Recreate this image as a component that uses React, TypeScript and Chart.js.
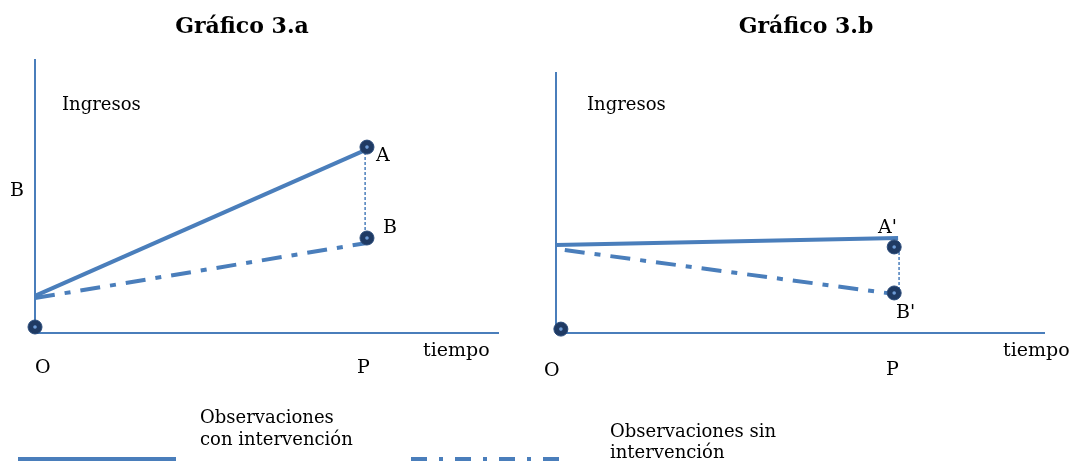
import React, { useEffect, useRef } from 'react';
import { Chart, registerables } from 'chart.js';

Chart.register(...registerables);

// ---------- text content ----------
const titles = ['Gráfico 3.a', 'Gráfico 3.b'];
const yAxisLabel = 'Ingresos';
const xAxisLabel = 'tiempo';
const timeTicks = ['O', 'P'];
const aSideLabel = 'B';
const aPointNames = ['A', 'B'];
const bPointNames = ["A'", "B'"];
const legendLabels = [
  ['Observaciones', 'con intervención'],
  ['Observaciones sin', 'intervención'],
];

// ---------- panel a values (x: tiempo 0..100, y: ingresos 0..100) ----------
const aWithX = [0, 71.3];
const aWithY = [13.6, 67.0];
const aWithoutX = [0, 71.7];
const aWithoutY = [12.8, 33.0];
const aGapX = [71.3, 71.3];
const aGapY = [68.1, 34.8];
const aPointX = [0, 71.7, 71.7];
const aPointY = [2.2, 68.1, 34.8];

// ---------- panel b values ----------
const bWithX = [0, 70.1];
const bWithY = [33.8, 36.5];
const bWithoutX = [1.8, 69.3];
const bWithoutY = [31.9, 15.0];
const bGapX = [70.3, 70.3];
const bGapY = [33.1, 15.4];
const bPointX = [1.0, 69.3, 69.3];
const bPointY = [1.5, 33.1, 15.4];

// ---------- styles ----------
const W = 1072;
const H = 462;
const BLUE = '#4a7ebb';
const NAVY = '#1f3a63';
const NAVY_EDGE = '#2c4d7c';
const CENTER = '#6d9bd6';
const DASH_DOT = [20, 10, 6, 10];
const SERIF = '"DejaVu Serif", serif';
const LABEL_FONT = `19px ${SERIF}`;
const SMALL_FONT = `18px ${SERIF}`;
const TITLE_FONT = `bold 22px ${SERIF}`;

const zip = (xs: number[], ys: number[]) => xs.map((x, i) => ({ x, y: ys[i] }));

function panelDatasets(
  wx: number[], wy: number[], nx: number[], ny: number[],
  gx: number[], gy: number[], px: number[], py: number[]
): any[] {
  return [
    { data: zip(px, py), pointRadius: 1.8, pointBackgroundColor: CENTER, pointBorderWidth: 0, showLine: false, clip: false, order: 0 },
    { data: zip(px, py), pointRadius: 7, pointBackgroundColor: NAVY, pointBorderColor: NAVY_EDGE, pointBorderWidth: 1, showLine: false, clip: false, order: 1 },
    { data: zip(wx, wy), showLine: true, borderColor: BLUE, borderWidth: 4, borderCapStyle: 'butt', pointRadius: 0, clip: false, order: 2 },
    { data: zip(nx, ny), showLine: true, borderColor: BLUE, borderWidth: 4, borderDash: DASH_DOT, borderCapStyle: 'butt', pointRadius: 0, clip: false, order: 2 },
    { data: zip(gx, gy), showLine: true, borderColor: BLUE, borderWidth: 1.5, borderDash: [3, 2], pointRadius: 0, clip: false, order: 3 },
  ];
}

type TextItem = { text: string; x: number; y: number; font: string; align?: CanvasTextAlign };

function textPlugin(id: string, items: TextItem[], drawLegend: boolean) {
  return {
    id,
    afterDraw(chart: any) {
      const ctx = chart.ctx as CanvasRenderingContext2D;
      ctx.save();
      if (drawLegend) {
        ctx.strokeStyle = BLUE;
        ctx.lineWidth = 4;
        ctx.lineCap = 'butt';
        ctx.setLineDash([]);
        ctx.beginPath();
        ctx.moveTo(18, 459);
        ctx.lineTo(176, 459);
        ctx.stroke();
        ctx.setLineDash([16, 12, 4, 12]);
        ctx.beginPath();
        ctx.moveTo(411, 459);
        ctx.lineTo(559, 459);
        ctx.stroke();
        ctx.setLineDash([]);
      }
      ctx.fillStyle = '#000';
      ctx.textBaseline = 'alphabetic';
      for (const it of items) {
        ctx.font = it.font;
        ctx.textAlign = it.align || 'left';
        ctx.fillText(it.text, it.x, it.y);
      }
      ctx.restore();
    },
  };
}

const axisScale = (min: number, max: number) => ({
  type: 'linear',
  min,
  max,
  display: true,
  ticks: { display: false },
  grid: { display: false, drawTicks: false },
  border: { display: true, color: BLUE, width: 2 },
});

function makeConfig(datasets: any[], padding: any, plugin: any): any {
  return {
    type: 'scatter',
    data: { datasets },
    options: {
      responsive: false,
      animation: false,
      devicePixelRatio: 1,
      layout: { padding },
      scales: { x: axisScale(0, 100), y: axisScale(0, 100) },
      plugins: { legend: { display: false }, tooltip: { enabled: false }, title: { display: false } },
      events: [],
    },
    plugins: [plugin],
  };
}

export default function App() {
  const refA = useRef<HTMLCanvasElement>(null);
  const refB = useRef<HTMLCanvasElement>(null);

  useEffect(() => {
    const itemsA: TextItem[] = [
      { text: titles[0], x: 242, y: 33, font: TITLE_FONT, align: 'center' },
      { text: yAxisLabel, x: 62, y: 110, font: SMALL_FONT },
      { text: aSideLabel, x: 10, y: 196, font: LABEL_FONT },
      { text: aPointNames[0], x: 376, y: 161, font: LABEL_FONT },
      { text: aPointNames[1], x: 383, y: 233, font: LABEL_FONT },
      { text: timeTicks[0], x: 35, y: 373, font: LABEL_FONT },
      { text: timeTicks[1], x: 357, y: 373, font: LABEL_FONT },
      { text: xAxisLabel, x: 423, y: 356, font: LABEL_FONT },
      { text: legendLabels[0][0], x: 200, y: 423, font: SMALL_FONT },
      { text: legendLabels[0][1], x: 200, y: 445, font: SMALL_FONT },
      { text: legendLabels[1][0], x: 610, y: 437, font: SMALL_FONT },
      { text: legendLabels[1][1], x: 610, y: 458, font: SMALL_FONT },
    ];
    const itemsB: TextItem[] = [
      { text: titles[1], x: 806, y: 33, font: TITLE_FONT, align: 'center' },
      { text: yAxisLabel, x: 587, y: 110, font: SMALL_FONT },
      { text: bPointNames[0], x: 878, y: 233, font: LABEL_FONT },
      { text: bPointNames[1], x: 896, y: 318, font: LABEL_FONT },
      { text: timeTicks[0], x: 544, y: 376, font: LABEL_FONT },
      { text: timeTicks[1], x: 886, y: 375, font: LABEL_FONT },
      { text: xAxisLabel, x: 1003, y: 356, font: LABEL_FONT },
    ];
    const ca = new Chart(
      refA.current as HTMLCanvasElement,
      makeConfig(
        panelDatasets(aWithX, aWithY, aWithoutX, aWithoutY, aGapX, aGapY, aPointX, aPointY),
        { left: 35, right: W - 498, top: 60, bottom: H - 333 },
        textPlugin('textsA', itemsA, true)
      )
    );
    const cb = new Chart(
      refB.current as HTMLCanvasElement,
      makeConfig(
        panelDatasets(bWithX, bWithY, bWithoutX, bWithoutY, bGapX, bGapY, bPointX, bPointY),
        { left: 556, right: W - 1044, top: 73, bottom: H - 333 },
        textPlugin('textsB', itemsB, false)
      )
    );
    return () => {
      ca.destroy();
      cb.destroy();
    };
  }, []);

  return (
    <div style={{ position: 'absolute', left: 0, top: 0, width: W, height: H, background: '#fff', overflow: 'hidden' }}>
      <canvas ref={refA} width={W} height={H} style={{ position: 'absolute', left: 0, top: 0 }} />
      <canvas ref={refB} width={W} height={H} style={{ position: 'absolute', left: 0, top: 0 }} />
    </div>
  );
}
